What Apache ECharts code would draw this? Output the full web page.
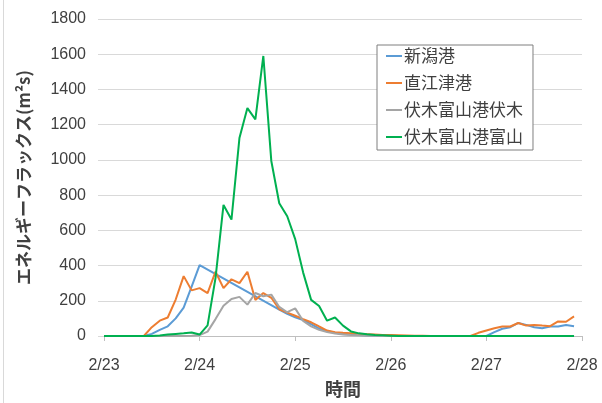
<!DOCTYPE html>
<html>
<head>
<meta charset="utf-8">
<script src="https://cdn.jsdelivr.net/npm/echarts@6/dist/echarts.min.js"></script>
<style>
  html, body { margin: 0; padding: 0; background: #ffffff; }
  #chart { width: 602px; height: 403px; }
</style>
</head>
<body>
<div id="chart"></div>
<script>
// Energy flux at four ports, sampled every 2 hours from 2/23 00:00
const stepHours = 2;
const dayTicks = ['2/23', '2/24', '2/25', '2/26', '2/27', '2/28'];
const seriesNames = ['新潟港', '直江津港', '伏木富山港伏木', '伏木富山港富山'];

// 新潟港 (gaps are joined by a straight segment)
const niigata = [
  0, 0, 0, 0, 0, 0, 12, 35, 55, 100, 161, 280, 402,
  null, null, null, null, null, null, null, null, null,
  150, 126, 106, 90, 68, 42, 28, 18, 12, 8, 5, 3, 2, 1, 0,
  0, 0, 0, 0, 0, 0, 0, 0, 0, 0, 0,
  0, 22, 41, 50, 74, 63, 50, 44, 54, 54, 63, 56
];

// 直江津港
const naoetsu = [
  0, 0, 0, 0, 0, 0,
  50, 87, 105, 207, 340, 259, 272, 244, 365, 272, 322, 300, 365, 204,
  244, 217, 152, 133, 115, 96, 78, 54, 31, 22, 18, 15, 12, 10, 8, 6, 5, 4, 3, 2, 1,
  0, 0, 0, 0, 0, 0,
  18, 31, 44, 54, 54, 74, 59, 63, 59, 56, 83, 81, 111
];

// 伏木富山港伏木
const fushiki = [
  0, 0, 0, 0, 0, 0, 0, 0, 0, 0, 0,
  2, 5, 25, 96, 172, 210, 222, 178, 244, 226, 235, 165, 135, 157, 85, 55, 35, 22, 14, 9, 6, 4, 2, 1,
  0, 0, 0, 0, 0, 0, 0, 0, 0, 0, 0, 0, 0, 0, 0, 0, 0, 0, 0, 0, 0, 0, 0, 0, 0
];

// 伏木富山港富山
const toyama = [
  0, 0, 0, 0, 0, 0, 0,
  3, 8, 12, 15, 20, 8, 60, 330, 744, 661, 1124, 1294, 1230, 1590, 994, 754, 680, 550, 360,
  205, 170, 87, 105, 59, 26, 15, 10, 6, 4, 2,
  0, 0, 0, 0, 0, 0, 0, 0, 0, 0, 0, 0, 0, 0, 0, 0, 0, 0, 0, 0, 0, 0, 0
];

const colors = ['#5B9BD5', '#ED7D31', '#A5A5A5', '#00B050'];
const allSeries = [niigata, naoetsu, fushiki, toyama];

function toPoints(values) {
  return values.map((v, i) => [i * stepHours, v]);
}

const chart = echarts.init(document.getElementById('chart'), null, { renderer: 'canvas' });

const textColor = '#404040';
const numFont = '"Liberation Sans", Arial, sans-serif';
const jpFont = '"Noto Sans CJK JP", sans-serif';

chart.setOption({
  animation: false,
  backgroundColor: '#ffffff',
  grid: { left: 104, right: 20, top: 19, bottom: 59, containLabel: false },
  graphic: [{
    type: 'line',
    shape: { x1: 3.5, y1: 0, x2: 3.5, y2: 403 },
    style: { stroke: '#d9d9d9', lineWidth: 1 }
  }],
  legend: {
    orient: 'vertical',
    left: 377,
    top: 45,
    padding: [1, 10, 3, 9],
    itemGap: 7,
    itemWidth: 16,
    itemHeight: 2,
    icon: 'rect',
    borderColor: '#7f7f7f',
    borderWidth: 1,
    backgroundColor: '#ffffff',
    textStyle: { fontFamily: jpFont, fontSize: 17, color: textColor, lineHeight: 20, padding: [0, 0, 0, -3] },
    data: seriesNames
  },
  xAxis: {
    type: 'value',
    min: 0,
    max: 120,
    interval: 24,
    name: '時間',
    nameLocation: 'middle',
    nameGap: 44,
    nameTextStyle: { fontFamily: jpFont, fontSize: 18, fontWeight: 'bold', color: textColor },
    axisLine: { show: true, lineStyle: { color: '#bfbfbf', width: 1 } },
    axisTick: { show: true, length: 5, lineStyle: { color: '#bfbfbf' } },
    splitLine: { show: false },
    axisLabel: {
      margin: 22,
      fontFamily: numFont,
      fontSize: 16,
      color: textColor,
      formatter: v => dayTicks[Math.round(v / 24)]
    }
  },
  yAxis: {
    type: 'value',
    min: 0,
    max: 1800,
    interval: 200,
    name: 'エネルギーフラックス(m²s)',
    nameLocation: 'middle',
    nameGap: 72,
    nameRotate: 90,
    nameTextStyle: { fontFamily: jpFont, fontSize: 17, fontWeight: 'bold', color: textColor },
    axisLine: { show: false },
    axisTick: { show: true, length: 6, lineStyle: { color: '#d9d9d9' } },
    splitLine: { show: true, lineStyle: { color: '#d9d9d9', width: 1 } },
    axisLabel: { margin: 18, fontFamily: numFont, fontSize: 16, color: textColor, formatter: v => String(v) }
  },
  series: allSeries.map((vals, k) => ({
    name: seriesNames[k],
    type: 'line',
    data: toPoints(vals),
    showSymbol: false,
    symbol: 'none',
    connectNulls: true,
    lineStyle: { color: colors[k], width: 2 },
    itemStyle: { color: colors[k] }
  }))
});
</script>
</body>
</html>
